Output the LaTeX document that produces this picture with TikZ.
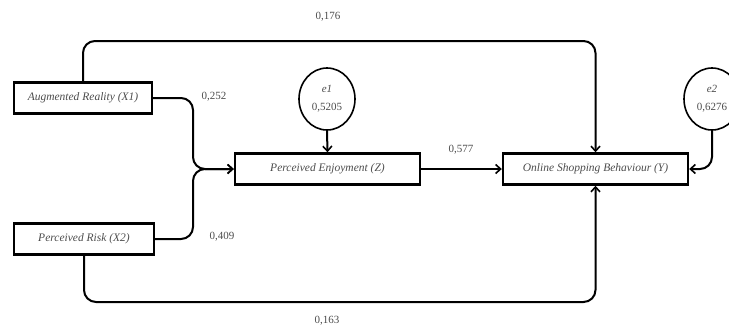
\documentclass[tikz,border=0pt]{standalone}
\usepackage{fontspec}
\setmainfont{Liberation Serif}
\usetikzlibrary{arrows.meta,calc,shapes.geometric}
\begin{document}
\begin{tikzpicture}[x=1pt,y=-1pt,
  box/.style={draw=black,line width=2.4pt,minimum height=31pt,inner sep=0pt,font=\fontsize{11.5}{13}\selectfont\itshape,text=black!70},
  err/.style={draw=black,line width=1.6pt,ellipse,minimum width=56pt,minimum height=62pt,inner sep=0pt,align=center,font=\fontsize{11}{18}\selectfont,text=black!70},
  conn/.style={line width=2pt,rounded corners=12pt,-{Straight Barb[length=5pt,width=9pt,line width=1.6pt]}},
  coef/.style={font=\fontsize{11}{13}\selectfont,text=black!70}]
\useasboundingbox (0,0) rectangle (729,327);
\node[box,minimum width=138pt] (AR) at (83,98) {Augmented Reality (X1)};
\node[box,minimum width=140pt] (PR) at (84,239) {Perceived Risk (X2)};
\node[box,minimum width=185pt] (PE) at (327.5,169) {Perceived Enjoyment (Z)};
\node[box,minimum width=185pt] (OSB) at (595.5,169) {Online Shopping Behaviour (Y)};
\node[err] (E1) at (327,99) {\textit{e1}\\0,5205};
\node[err] (E2) at (712,99) {\textit{e2}\\0,6276};
\coordinate (top) at (0,41);
\coordinate (bot) at (0,302);
\coordinate (mid) at (193,0);
\draw[conn] (AR.east) -- (AR.east -| mid) -- (mid |- PE.west) -- (PE.west);
\draw[conn] (PR.east) -- (PR.east -| mid) -- (mid |- PE.west) -- (PE.west);
\draw[conn] (E1.south) -- (PE.north);
\draw[conn] (PE.east) -- (OSB.west);
\draw[conn] (AR.north) -- (AR.north |- top) -- (OSB.north |- top) -- (OSB.north);
\draw[conn] (PR.south) -- (PR.south |- bot) -- (OSB.south |- bot) -- (OSB.south);
\draw[conn] (E2.south) -- (E2.south |- OSB.east) -- (OSB.east);
\node[coef] (c1) at (328,17) {0,176};
\node[coef] (c2) at (327,321) {0,163};
\node[coef] (c3) at (214,97) {0,252};
\node[coef] (c4) at (222,237) {0,409};
\node[coef] (c5) at (461,150) {0,577};
\end{tikzpicture}
\end{document}
